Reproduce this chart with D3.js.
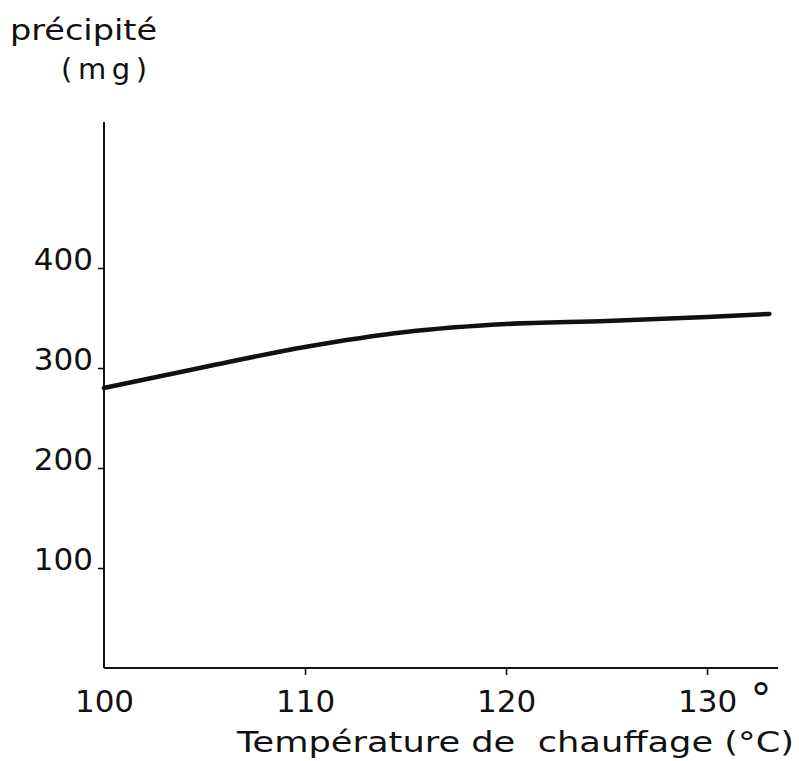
<!DOCTYPE html>
<html>
<head>
<meta charset="utf-8">
<script src="https://cdn.jsdelivr.net/npm/d3@7"></script>
<style>
  html, body { margin: 0; padding: 0; background: #fff; }
  svg { display: block; }
  text { font-family: "DejaVu Sans", sans-serif; fill: #111; }
</style>
</head>
<body>
<svg id="chart" width="799" height="761"></svg>
<script>
// ---- data ----
const temperatures = [100, 105, 110, 115, 120, 125, 130, 133.1];
const precipitate  = [280, 301, 321, 336, 344, 347, 351, 354];
const yTickValues  = [100, 200, 300, 400];
const xTickValues  = [100, 110, 120, 130];
const yTitleLines  = ["précipité", "(mg)"];
const xTitle       = "Température de  chauffage (°C)";

const svg = d3.select("#chart");

const x = d3.scaleLinear().domain([100, 133.53]).range([104, 778]);
const y = d3.scaleLinear().domain([0, 546]).range([668, 122]);

// y axis
const yAxis = d3.axisLeft(y)
  .tickValues(yTickValues)
  .tickSize(6)
  .tickSizeOuter(0)
  .tickFormat(d3.format("d"));
const gy = svg.append("g").attr("transform", `translate(${x(100)},0)`).call(yAxis);
gy.select(".domain").attr("stroke", "#111").attr("stroke-width", 2)
  .attr("d", `M0,${y(546)}V${y(0)}`);
gy.selectAll(".tick line").attr("stroke", "#111").attr("stroke-width", 1.6);
gy.selectAll(".tick text")
  .attr("x", -11).attr("dy", 0).attr("y", 1)
  .attr("font-size", 31).attr("font-family", "DejaVu Sans").attr("fill", "#111");

// x axis
const xAxis = d3.axisBottom(x)
  .tickValues(xTickValues)
  .tickSize(7)
  .tickSizeOuter(0)
  .tickFormat(d3.format("d"));
const gx = svg.append("g").attr("transform", `translate(0,${y(0)})`).call(xAxis);
gx.select(".domain").attr("stroke", "#111").attr("stroke-width", 2)
  .attr("d", `M${x(100)},0H${x(133.53)}`);
gx.selectAll(".tick line").attr("stroke", "#111").attr("stroke-width", 1.6)
  .attr("opacity", d => d === 100 ? 0 : 1);
gx.selectAll(".tick text")
  .attr("y", 44).attr("dy", 0)
  .attr("font-size", 31).attr("font-family", "DejaVu Sans").attr("fill", "#111");

// degree sign after 130
svg.append("text")
  .attr("x", 761).attr("y", 714)
  .attr("text-anchor", "middle")
  .attr("font-size", 42)
  .text("°");

// curve
const pts = temperatures.map((t, i) => [t, precipitate[i]]);
const line = d3.line()
  .x(d => x(d[0]))
  .y(d => y(d[1]))
  .curve(d3.curveMonotoneX);
svg.append("path")
  .datum(pts)
  .attr("d", line)
  .attr("fill", "none")
  .attr("stroke", "#111")
  .attr("stroke-width", 4.5)
  .attr("stroke-linecap", "round")
  .attr("stroke-linejoin", "round");

// y title
svg.append("text")
  .attr("x", 10).attr("y", 40)
  .attr("font-size", 28)
  .attr("textLength", 147)
  .attr("lengthAdjust", "spacingAndGlyphs")
  .text(yTitleLines[0]);
svg.append("text")
  .attr("x", 61).attr("y", 79)
  .attr("font-size", 29)
  .attr("textLength", 86)
  .attr("lengthAdjust", "spacing")
  .text(yTitleLines[1]);

// x title
svg.append("text")
  .attr("x", 237).attr("y", 752)
  .attr("font-size", 29)
  .attr("xml:space", "preserve")
  .style("white-space", "pre")
  .attr("textLength", 557)
  .attr("lengthAdjust", "spacingAndGlyphs")
  .text(xTitle);
</script>
</body>
</html>
